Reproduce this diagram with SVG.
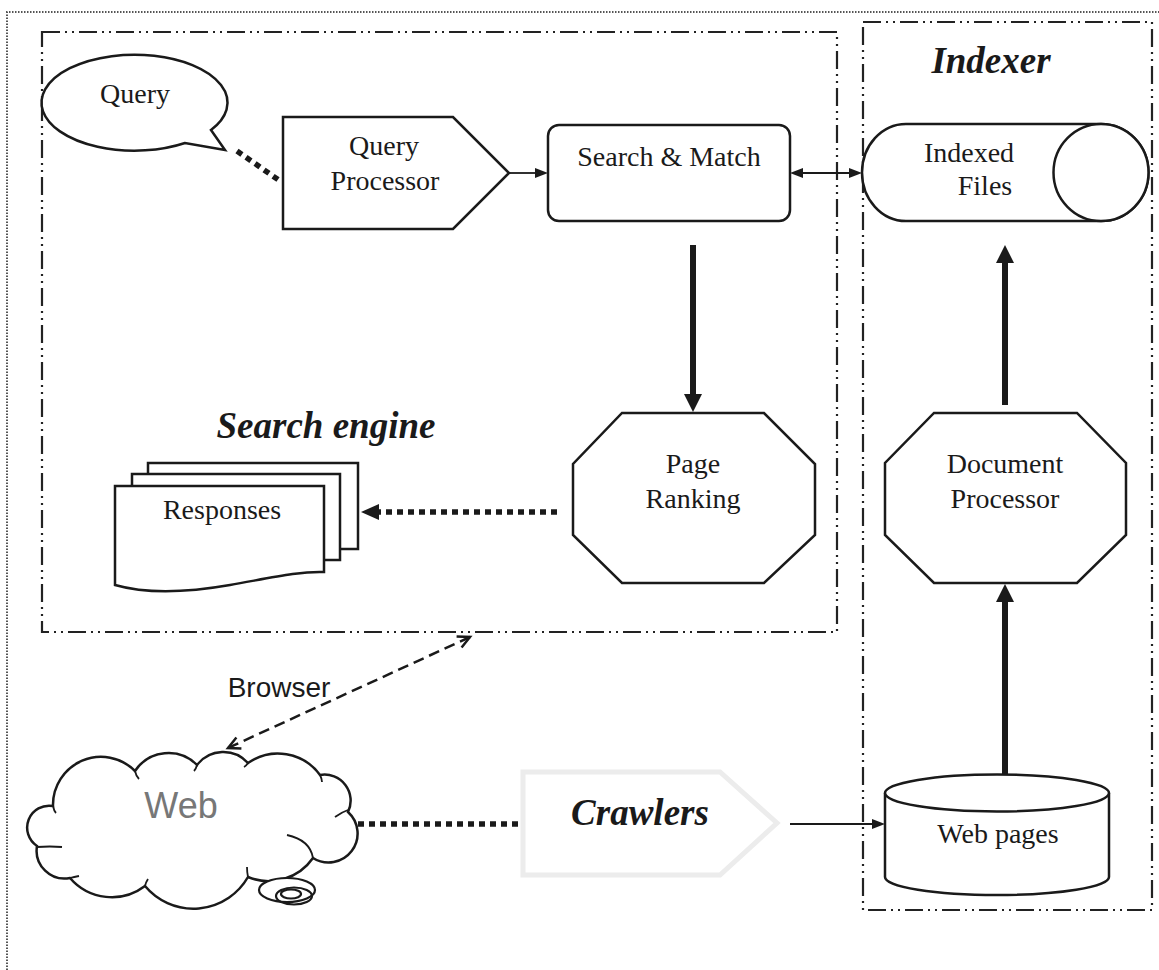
<svg xmlns="http://www.w3.org/2000/svg" width="1159" height="970" viewBox="0 0 1159 970">
  <style>
    .shape { fill: #fff; stroke: #1a1a1a; stroke-width: 2.5; stroke-linejoin: miter; }
    .frame { fill: none; stroke: #222; stroke-width: 2.2; stroke-dasharray: 18 5 2 5 2 5; }
    .outer { fill: none; stroke: #555; stroke-width: 2; stroke-dasharray: 1.5 1.5; }
    .t { font-family: "Liberation Serif", "Times New Roman", serif; font-size: 28px; fill: #1a1a1a; text-anchor: middle; }
    .h { font-weight: bold; font-style: italic; font-size: 37px; }
    .sans { font-family: "Liberation Sans", Arial, sans-serif; }
    .web { font-size: 36px; fill: #777; }
    .thin { stroke: #1a1a1a; stroke-width: 1.8; fill: none; }
    .thick { stroke: #1a1a1a; stroke-width: 6; fill: none; }
    .dots { stroke: #1a1a1a; stroke-width: 5.5; stroke-dasharray: 6 5; fill: none; }
    .dash { stroke: #1a1a1a; stroke-width: 2.5; stroke-dasharray: 11 6; fill: none; }
  </style>
  <defs>
    <marker id="sm" markerUnits="userSpaceOnUse" markerWidth="14" markerHeight="12" refX="2" refY="5" orient="auto-start-reverse">
      <path d="M0,0 L13,5 L0,10 Z" fill="#1a1a1a"/>
    </marker>
    <marker id="big" markerUnits="userSpaceOnUse" markerWidth="20" markerHeight="20" refX="2" refY="9" orient="auto">
      <path d="M0,0 L18,9 L0,18 Z" fill="#1a1a1a"/>
    </marker>
    <marker id="mid" markerUnits="userSpaceOnUse" markerWidth="20" markerHeight="18" refX="2" refY="8" orient="auto">
      <path d="M0,0 L18,8 L0,16 Z" fill="#1a1a1a"/>
    </marker>
    <marker id="open" markerUnits="userSpaceOnUse" markerWidth="16" markerHeight="16" refX="13" refY="7" orient="auto-start-reverse">
      <path d="M1,1 L13,7 L1,13" fill="none" stroke="#1a1a1a" stroke-width="2.5"/>
    </marker>
  </defs>

  <rect width="1159" height="970" fill="#fff"/>

  <!-- page border (top and left) -->
  <path class="outer" d="M7,970 V12 H1159"/>

  <!-- subsystem boundaries -->
  <g id="search-engine-frame">
    <rect class="frame" x="42" y="32" width="795" height="600"/>
    <text class="t h" x="326" y="438">Search engine</text>
  </g>
  <g id="indexer-frame">
    <rect class="frame" x="863" y="22" width="289" height="888"/>
    <text class="t h" x="991" y="73">Indexer</text>
  </g>

  <!-- connectors -->
  <g id="connectors">
    <line class="dots" x1="237" y1="151" x2="280" y2="181"/>
    <line class="thin" x1="509" y1="173" x2="537" y2="173" marker-end="url(#sm)"/>
    <line class="thin" x1="801" y1="173" x2="851" y2="173" marker-start="url(#sm)" marker-end="url(#sm)"/>
    <line class="thick" x1="693" y1="245" x2="693" y2="396" marker-end="url(#big)"/>
    <line class="thick" x1="1005" y1="405" x2="1005" y2="261" marker-end="url(#big)"/>
    <line class="thick" x1="1005" y1="798" x2="1005" y2="600" marker-end="url(#big)"/>
    <line class="dots" x1="557" y1="512" x2="377" y2="512" marker-end="url(#mid)"/>
    <line class="dots" x1="358" y1="824" x2="521" y2="824"/>
    <line class="thin" x1="790" y1="824" x2="874" y2="824" marker-end="url(#sm)"/>
    <line class="dash" x1="470" y1="637" x2="228" y2="748" marker-start="url(#open)" marker-end="url(#open)"/>
    <text class="t sans" x="279" y="697">Browser</text>
  </g>

  <!-- nodes -->
  <g id="query">
    <path class="shape" d="M185,143 A93,48 0 1 1 211,130 L225,150 Z"/>
    <text class="t" x="135" y="103">Query</text>
  </g>

  <g id="query-processor">
    <polygon class="shape" points="283,117 453,117 509,173 453,229 283,229"/>
    <text class="t" x="384" y="155">Query</text>
    <text class="t" x="385" y="190">Processor</text>
  </g>

  <g id="search-match">
    <rect class="shape" x="548" y="125" width="242" height="96" rx="11"/>
    <text class="t" x="669" y="166">Search &amp; Match</text>
  </g>

  <g id="indexed-files">
    <path class="shape" d="M906,124 H1101 A47.5,48.5 0 0 1 1101,221 H906 A44,48.5 0 0 1 906,124 Z"/>
    <ellipse class="shape" cx="1101" cy="172.5" rx="47.5" ry="48.5"/>
    <text class="t" x="969" y="162">Indexed</text>
    <text class="t" x="985" y="195">Files</text>
  </g>

  <g id="page-ranking">
    <polygon class="shape" points="622,413 764,413 815,464 815,535 764,583 622,583 573,535 573,464"/>
    <text class="t" x="693" y="473">Page</text>
    <text class="t" x="693" y="508">Ranking</text>
  </g>

  <g id="document-processor">
    <polygon class="shape" points="934,413 1077,413 1126,463 1126,535 1077,583 934,583 885,535 885,463"/>
    <text class="t" x="1005" y="473">Document</text>
    <text class="t" x="1005" y="508">Processor</text>
  </g>

  <g id="responses">
    <rect class="shape" x="148" y="463" width="210" height="86"/>
    <rect class="shape" x="132" y="474" width="208" height="86"/>
    <path class="shape" d="M115,486 H324 V572 C300,571 270,578 230,585 C190,592 150,595 115,585 Z"/>
    <text class="t" x="222" y="519">Responses</text>
  </g>

  <g id="web">
    <path class="shape" d="M53,806 A48,48 0 0 1 135,771 A40,40 0 0 1 197,765 A33,33 0 0 1 248,763 A52,52 0 0 1 320,775 A26,26 0 0 1 348,812 A29,29 0 0 1 313,858 A54,54 0 0 1 248,877 A63,63 0 0 1 145,886 A55,55 0 0 1 70,878 A28,28 0 0 1 37,846 A22,22 0 0 1 53,806 Z"/>
    <g class="thin" stroke-width="2.2">
      <path d="M53,806 Q54,811 56,813"/>
      <path d="M135,771 Q136,776 139,779"/>
      <path d="M197,765 Q196,769 194,771"/>
      <path d="M248,763 Q246,766 244,767"/>
      <path d="M320,775 Q322,779 322,782"/>
      <path d="M335,817 Q342,812 348,810"/>
      <path d="M287,835 Q310,840 313,858"/>
      <path d="M248,877 Q247,872 247,867"/>
      <path d="M145,886 Q146,882 148,879"/>
      <path d="M70,878 Q74,877 79,876"/>
      <path d="M37,847 Q50,846 62,847"/>
    </g>
    <ellipse cx="287" cy="890" rx="28" ry="12" fill="#fff" stroke="#1a1a1a" stroke-width="2.2"/>
    <ellipse cx="294" cy="896" rx="18" ry="8.5" fill="none" stroke="#1a1a1a" stroke-width="2.2"/>
    <ellipse cx="291" cy="894" rx="10" ry="4.5" fill="none" stroke="#1a1a1a" stroke-width="2.2"/>
    <text class="t sans web" x="181" y="818">Web</text>
  </g>

  <g id="crawlers">
    <polygon points="523,772 720,772 777,823 720,875 523,875" fill="#fff" stroke="#ececec" stroke-width="5"/>
    <text class="t h" x="640" y="825">Crawlers</text>
  </g>

  <g id="web-pages">
    <path class="shape" d="M885,793 A112,18.5 0 0 1 1109,793 V877 A112,18 0 0 1 885,877 Z"/>
    <path class="shape" fill="none" d="M885,793 A112,18.5 0 0 0 1109,793"/>
    <text class="t" x="998" y="843">Web pages</text>
  </g>
</svg>
